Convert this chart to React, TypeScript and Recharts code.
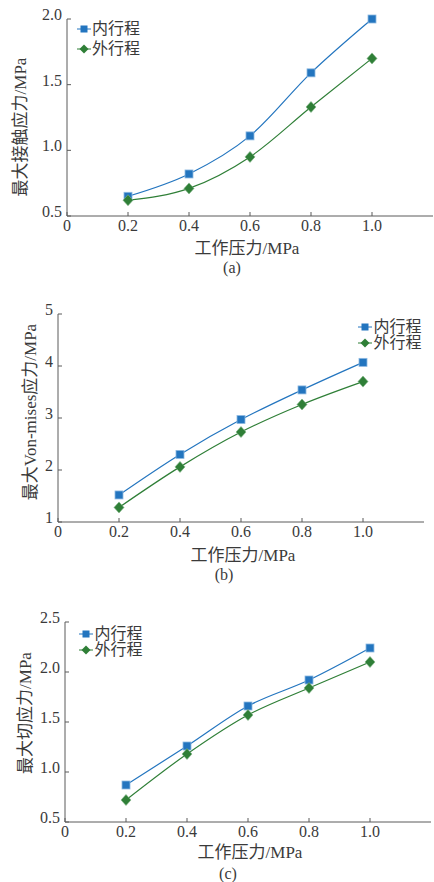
import React from "react";
import { Label, Legend, Line, LineChart, XAxis, YAxis } from "recharts";

// working pressure (MPa)
const PRESSURE = [0.2, 0.4, 0.6, 0.8, 1.0];
const X_TICKS = [0, 0.2, 0.4, 0.6, 0.8, 1.0];

// (a) max contact stress
const contactInner = [0.65, 0.82, 1.11, 1.59, 2.0];
const contactOuter = [0.62, 0.71, 0.95, 1.33, 1.7];
const contactTicks = [0.5, 1.0, 1.5, 2.0];

// (b) max Von-mises stress
const vonInner = [1.52, 2.3, 2.97, 3.54, 4.07];
const vonOuter = [1.28, 2.06, 2.73, 3.26, 3.7];
const vonTicks = [1, 2, 3, 4, 5];

// (c) max shear stress
const shearInner = [0.87, 1.26, 1.66, 1.92, 2.24];
const shearOuter = [0.72, 1.18, 1.57, 1.84, 2.1];
const shearTicks = [0.5, 1.0, 1.5, 2.0, 2.5];

const SERIES_NAMES = ["内行程", "外行程"];

const BLUE = "#2375bf";
const GREEN = "#2f7f37";
const TEXT = "#3a3a3a";
const AXIS = "#5a5a5a";
const FONT = "'Liberation Serif', 'Noto Sans CJK SC', serif";

const fmtX = (v: number) => (v === 0 ? "0" : v.toFixed(1));

const XTick = (props: any) => (
  <text x={props.x} y={props.y + 15} textAnchor="middle" fontSize={16} fontFamily={FONT} fill={TEXT}>
    {fmtX(props.payload.value)}
  </text>
);

const makeYTick = (digits: number) => (props: any) => (
  <text x={props.x} y={props.y + 1} textAnchor="end" fontSize={16} fontFamily={FONT} fill={TEXT}>
    {props.payload.value.toFixed(digits)}
  </text>
);

const renderSquare = (props: any) => {
  const { cx, cy, index } = props;
  if (cx == null || cy == null) return <g key={`sq-${index}`} />;
  return (
    <rect
      key={`sq-${index}`}
      x={cx - 4}
      y={cy - 4}
      width={8}
      height={8}
      fill={BLUE}
      stroke="#8db9e2"
      strokeWidth={0.8}
    />
  );
};

const renderDiamond = (props: any) => {
  const { cx, cy, index } = props;
  if (cx == null || cy == null) return <g key={`dm-${index}`} />;
  return (
    <path
      key={`dm-${index}`}
      d={`M${cx},${cy - 5.5} L${cx + 5},${cy} L${cx},${cy + 5.5} L${cx - 5},${cy} Z`}
      fill={GREEN}
      stroke="#7fb387"
      strokeWidth={0.6}
    />
  );
};

const makeLegend = (rowH: number) => (props: any) => {
  const payload = props.payload || [];
  return (
    <div style={{ fontFamily: FONT, fontSize: 16, color: TEXT }}>
      {payload.map((entry: any) => (
        <div key={entry.value} style={{ display: "flex", alignItems: "center", height: rowH }}>
          <svg width={14} height={12} style={{ display: "block" }}>
            <line x1={0} x2={14} y1={6} y2={6} stroke={entry.color} strokeWidth={1} />
            {entry.dataKey === "inner" ? (
              <rect x={3.5} y={2.5} width={7} height={7} fill={BLUE} />
            ) : (
              <path d="M7,1.5 L11.5,6 L7,10.5 L2.5,6 Z" fill={GREEN} />
            )}
          </svg>
          <span style={{ marginLeft: 1.5, lineHeight: `${rowH}px`, whiteSpace: "nowrap" }}>{entry.value}</span>
        </div>
      ))}
    </div>
  );
};

type PanelProps = {
  top: number;
  height: number;
  margin: { top: number; right: number; bottom: number; left: number };
  yWidth: number;
  inner: number[];
  outer: number[];
  yTicks: number[];
  yDigits: number;
  yLabel: string;
  yLabelPos: [number, number];
  xLabelPos: [number, number];
  sub: string;
  subPos: [number, number];
  legendPos: { left: number; top: number; rowH: number };
};

function Panel(p: PanelProps) {
  const data = PRESSURE.map((x, i) => ({ p: x, inner: p.inner[i], outer: p.outer[i] }));
  const textStyle = { fontFamily: FONT, fill: TEXT };
  return (
    <div style={{ position: "absolute", left: 0, top: p.top, width: 434, height: p.height }}>
      <LineChart width={434} height={p.height} data={data} margin={p.margin}>
        <XAxis
          dataKey="p"
          type="number"
          domain={[0, 1.2]}
          ticks={X_TICKS}
          allowDataOverflow
          height={30}
          stroke={AXIS}
          tickSize={-4}
          tickMargin={4}
          tick={<XTick />}
        >
          <Label
            content={() => (
              <g>
                <text x={p.xLabelPos[0]} y={p.xLabelPos[1]} textAnchor="middle" dominantBaseline="central" fontSize={17} {...textStyle}>
                  工作压力/MPa
                </text>
                <text x={p.subPos[0]} y={p.subPos[1]} textAnchor="middle" dominantBaseline="central" fontSize={16} {...textStyle}>
                  {p.sub}
                </text>
              </g>
            )}
          />
        </XAxis>
        <YAxis
          type="number"
          domain={[p.yTicks[0], p.yTicks[p.yTicks.length - 1]]}
          ticks={p.yTicks}
          width={p.yWidth}
          stroke={AXIS}
          tickSize={-4}
          tickMargin={9}
          tick={makeYTick(p.yDigits)}
        >
          <Label
            content={() => (
              <text
                x={p.yLabelPos[0]}
                y={p.yLabelPos[1]}
                transform={`rotate(-90, ${p.yLabelPos[0]}, ${p.yLabelPos[1]})`}
                textAnchor="middle"
                dominantBaseline="central"
                fontSize={17}
                {...textStyle}
              >
                {p.yLabel}
              </text>
            )}
          />
        </YAxis>
        <Legend
          layout="vertical"
          align="center"
          verticalAlign="middle"
          content={makeLegend(p.legendPos.rowH)}
          wrapperStyle={{ left: p.legendPos.left, top: p.legendPos.top, width: "auto" }}
        />
        <Line
          type="monotone"
          dataKey="inner"
          name={SERIES_NAMES[0]}
          stroke={BLUE}
          strokeWidth={1.2}
          dot={renderSquare}
          activeDot={false}
          isAnimationActive={false}
        />
        <Line
          type="monotone"
          dataKey="outer"
          name={SERIES_NAMES[1]}
          stroke={GREEN}
          strokeWidth={1.2}
          dot={renderDiamond}
          activeDot={false}
          isAnimationActive={false}
        />
      </LineChart>
    </div>
  );
}

export default function App() {
  return (
    <div style={{ position: "absolute", left: 0, top: 0, width: 434, height: 882, background: "#fff", overflow: "hidden" }}>
      <Panel
        top={0}
        height={290}
        margin={{ top: 19, right: 1, bottom: 44, left: 0 }}
        yWidth={67}
        inner={contactInner}
        outer={contactOuter}
        yTicks={contactTicks}
        yDigits={1}
        yLabel="最大接触应力/MPa"
        yLabelPos={[20, 127]}
        xLabelPos={[247, 248]}
        sub="(a)"
        subPos={[232, 267]}
        legendPos={{ left: 76.5, top: 19, rowH: 20 }}
      />
      <Panel
        top={290}
        height={300}
        margin={{ top: 24, right: 10, bottom: 38, left: 0 }}
        yWidth={58}
        inner={vonInner}
        outer={vonOuter}
        yTicks={vonTicks}
        yDigits={0}
        yLabel="最大Von-mises应力/MPa"
        yLabelPos={[30, 122]}
        xLabelPos={[243, 265]}
        sub="(b)"
        subPos={[224, 284]}
        legendPos={{ left: 358, top: 29, rowH: 16 }}
      />
      <Panel
        top={590}
        height={292}
        margin={{ top: 32, right: 3, bottom: 30, left: 0 }}
        yWidth={65}
        inner={shearInner}
        outer={shearOuter}
        yTicks={shearTicks}
        yDigits={1}
        yLabel="最大切应力/MPa"
        yLabelPos={[25, 123]}
        xLabelPos={[250, 262]}
        sub="(c)"
        subPos={[228, 283]}
        legendPos={{ left: 79, top: 36, rowH: 16 }}
      />
    </div>
  );
}
